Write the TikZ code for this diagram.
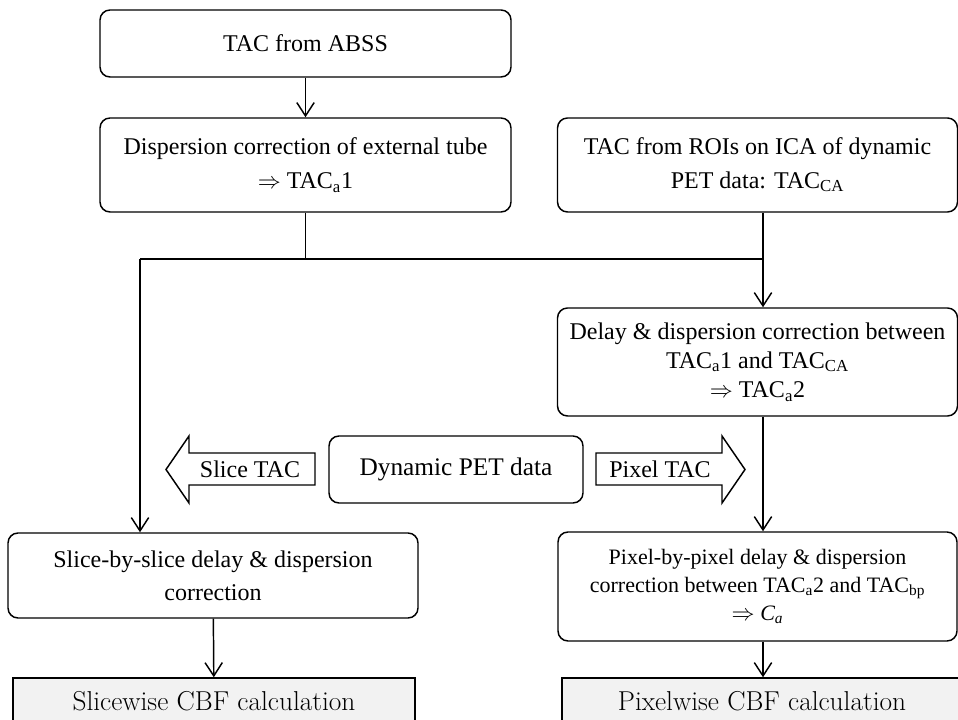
\documentclass[tikz,border=0pt]{standalone}
\usepackage{fontspec}
\usepackage{tikz}
\usetikzlibrary{arrows.meta}
\usepackage{amsmath}
\newfontfamily\tnr{Liberation Serif}
\definecolor{cbfgray}{RGB}{242,242,242}

\begin{document}
\begin{tikzpicture}[x=0.75pt,y=0.75pt,yscale=-1,xscale=1,
  rbox/.style={draw, line width=1.1pt, rounded corners=7.5pt, align=center, inner sep=0.75pt},
  sbox/.style={draw, line width=1.1pt, fill=cbfgray, align=center, inner sep=0.75pt,
    font=\fontsize{20.5}{24}\selectfont},
  conn/.style={line width=1.1pt, -{Straight Barb[length=10pt,width=13pt]}},
  plain/.style={line width=1.1pt},
  blockarr/.style={draw, line width=1.1pt, line join=miter}]
%set diagram left start at 0, and has height of 720
\useasboundingbox (0,0) rectangle (958,720);

% Rounded Rect
\node[rbox, minimum width=308.25pt, minimum height=50.25pt,
  font=\tnr\fontsize{18}{24}\selectfont] (abss) at (305.5,43.5)
  {TAC from ABSS};
% Rounded Rect
\node[rbox, minimum width=308.25pt, minimum height=70.5pt,
  font=\tnr\fontsize{18}{26}\selectfont] (tube) at (305.5,165)
  {Dispersion correction of external tube\\
   $\Rightarrow$ TAC\textsubscript{a}1};
% Rounded Rect
\node[rbox, minimum width=300pt, minimum height=70.5pt,
  font=\tnr\fontsize{18}{25}\selectfont] (roi) at (757.5,165)
  {TAC from ROIs on ICA of dynamic\\
   PET data: TAC\textsubscript{CA}};
% Rounded Rect
\node[rbox, minimum width=300pt, minimum height=81pt,
  font=\tnr\fontsize{18}{22}\selectfont] (delay) at (757.5,362)
  {Delay \& dispersion correction between\\
   TAC\textsubscript{a}1 and TAC\textsubscript{CA}\\
   $\Rightarrow$ TAC\textsubscript{a}2};
% Rounded Rect
\node[rbox, minimum width=190.5pt, minimum height=50.25pt,
  font=\tnr\fontsize{19}{24}\selectfont] (dyn) at (456,469.5)
  {Dynamic PET data};
% Rounded Rect
\node[rbox, minimum width=307.5pt, minimum height=63.75pt,
  font=\tnr\fontsize{18}{25}\selectfont] (slicebox) at (213,575.5)
  {Slice-by-slice delay \& dispersion\\
   correction};
% Rounded Rect
\node[rbox, minimum width=299.25pt, minimum height=81.75pt,
  font=\tnr\fontsize{16.5}{21}\selectfont] (pixbox) at (757.5,586.5)
  {Pixel-by-pixel delay \& dispersion\\
   correction between TAC\textsubscript{a}2 and TAC\textsubscript{bp}\\
   $\Rightarrow$ {\itshape C}\textsubscript{\itshape a}};
% Rect
\node[sbox, minimum width=301.5pt, minimum height=34.5pt] (slicecbf) at (214,701)
  {Slicewise CBF calculation};
% Rect
\node[sbox, minimum width=300pt, minimum height=34.5pt] (pixcbf) at (762,701)
  {Pixelwise CBF calculation};

% Block Arrows
\draw[blockarr] (315,453) -- (189,453) -- (189,436) -- (166,469.5) -- (189,503) -- (189,485) -- (315,485) -- cycle;
\node[inner sep=0pt, font=\tnr\fontsize{18}{22}\selectfont] (slicetac) at (250,469.5) {Slice TAC};
\draw[blockarr] (596,453) -- (722,453) -- (722,436) -- (745,469.5) -- (722,503) -- (722,485) -- (596,485) -- cycle;
\node[inner sep=0pt, font=\tnr\fontsize{18}{22}\selectfont] (pixtac) at (660,469.5) {Pixel TAC};

% Junctions
\coordinate (jl) at (140,259);
\coordinate (jm) at (305.5,259);
\coordinate (jr) at (763,259);

%Straight Lines
\draw[conn] (abss) -- (tube);
\draw[plain] (tube) -- (jm);
\draw[plain] (jl) -- (jr);
\draw[plain] (roi.south -| jr) -- (jr);
\draw[conn] (jr) -- (delay.north -| jr);
\draw[conn] (jl) -- (slicebox.north -| jl);
\draw[conn] (delay.south -| jr) -- (pixbox.north -| jr);
\draw[conn] (slicebox) -- (slicecbf);
\draw[conn] (pixbox.south -| jr) -- (pixcbf.north -| jr);

\end{tikzpicture}
\end{document}
